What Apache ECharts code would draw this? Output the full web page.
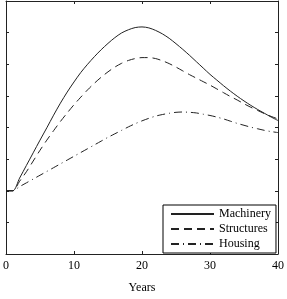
<!DOCTYPE html>
<html>
<head>
<meta charset="utf-8">
<script src="https://cdn.jsdelivr.net/npm/echarts@6/dist/echarts.min.js"></script>
<style>html,body{margin:0;padding:0;background:#fff}#c{width:287px;height:299px}</style>
</head>
<body>
<div id="c"></div>
<script>
const years = [0,1,2,3,4,5,6,7,8,9,10,11,12,13,14,15,16,17,18,19,20,21,22,23,24,25,26,27,28,29,30,31,32,33,34,35,36,37,38,39,40];
const machinery = [2,2,2.4,2.8,3.2,3.6,3.99,4.39,4.77,5.12,5.44,5.74,6.0,6.24,6.46,6.66,6.84,6.99,7.09,7.16,7.18,7.15,7.07,6.96,6.82,6.65,6.47,6.28,6.08,5.88,5.68,5.5,5.32,5.15,4.99,4.84,4.7,4.57,4.45,4.33,4.22];
const structures = [2,2,2.3,2.6,2.94,3.28,3.6,3.9,4.19,4.46,4.72,4.96,5.19,5.4,5.59,5.76,5.91,6.03,6.12,6.18,6.21,6.21,6.18,6.11,6.02,5.91,5.79,5.67,5.56,5.45,5.34,5.22,5.1,4.98,4.87,4.75,4.64,4.54,4.44,4.35,4.27];
const housing = [2,2,2.13,2.25,2.37,2.49,2.61,2.73,2.85,2.97,3.09,3.21,3.33,3.45,3.57,3.69,3.8,3.91,4.02,4.12,4.21,4.29,4.36,4.41,4.45,4.48,4.49,4.48,4.46,4.42,4.38,4.33,4.27,4.2,4.13,4.07,4.01,3.96,3.91,3.87,3.84];
const seriesNames = ['Machinery','Structures','Housing'];
const xTicks = [0,10,20,30,40];

const pair = arr => years.map((t,i)=>[t,arr[i]]);
const font = 'Liberation Serif';
const axisCol = '#222';

const chart = echarts.init(document.getElementById('c'), null, {renderer:'canvas'});
const xBase = {
  type:'value', min:xTicks[0], max:xTicks[xTicks.length-1], interval:10,
  axisLine:{show:true, onZero:false, lineStyle:{color:axisCol, width:1}},
  axisTick:{show:true, inside:true, length:3, lineStyle:{color:axisCol}},
  splitLine:{show:false}
};
const yBase = {
  type:'value', min:0, max:8, interval:1,
  axisLine:{show:true, onZero:false, lineStyle:{color:axisCol, width:1}},
  axisTick:{show:true, inside:true, length:3, lineStyle:{color:axisCol}},
  axisLabel:{show:false},
  splitLine:{show:false}
};
chart.setOption({
  animation:false,
  backgroundColor:'#fff',
  grid:{left:5, right:2, top:1, bottom:39, containLabel:false},
  xAxis:[
    Object.assign({}, xBase, {position:'bottom', name:'Years', nameLocation:'middle', nameGap:28,
      nameTextStyle:{fontFamily:font, fontSize:12, color:'#000'},
      axisLabel:{show:true, margin:6, fontFamily:font, fontSize:12, color:'#000'}}),
    Object.assign({}, xBase, {position:'top', axisLabel:{show:false}})
  ],
  yAxis:[
    Object.assign({}, yBase, {position:'left'}),
    Object.assign({}, yBase, {position:'right'})
  ],
  legend:{
    orient:'vertical', left:163, top:205,
    backgroundColor:'#fff', borderColor:'#000', borderWidth:1, borderRadius:0,
    padding:[3,5,3,7], itemGap:3, itemWidth:43, itemHeight:12,
    itemStyle:{opacity:0},
    textStyle:{fontFamily:font, fontSize:12, color:'#000'},
    data:seriesNames
  },
  series:[
    {name:seriesNames[0], type:'line', data:pair(machinery), symbol:'none', smooth:0.3, xAxisIndex:0, yAxisIndex:0,
      lineStyle:{color:'#222', width:1, type:'solid'}, itemStyle:{color:'#222'}},
    {name:seriesNames[1], type:'line', data:pair(structures), symbol:'none', smooth:0.3, xAxisIndex:0, yAxisIndex:0,
      lineStyle:{color:'#222', width:1, type:[8,5]}, itemStyle:{color:'#222'}},
    {name:seriesNames[2], type:'line', data:pair(housing), symbol:'none', smooth:0.3, xAxisIndex:0, yAxisIndex:0,
      lineStyle:{color:'#222', width:1, type:[8,4,1,4]}, itemStyle:{color:'#222'}}
  ]
});
</script>
</body>
</html>
